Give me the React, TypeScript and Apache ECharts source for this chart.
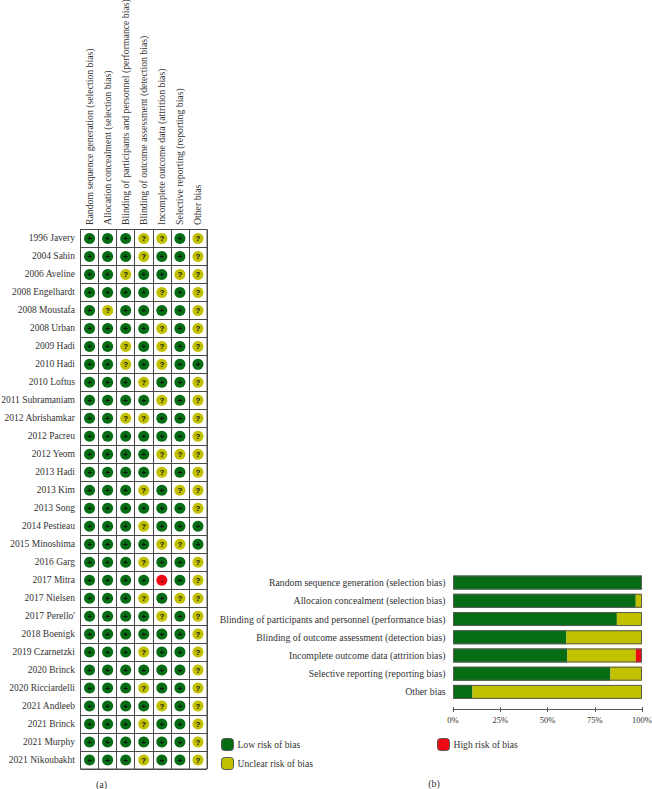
import React, { useEffect, useRef } from "react";
import * as echarts from "echarts";

const studies = ["1996 Javery","2004 Sahin","2006 Aveline","2008 Engelhardt","2008 Moustafa","2008 Urban","2009 Hadi","2010 Hadi","2010 Loftus","2011 Subramaniam","2012 Abrishamkar","2012 Pacreu","2012 Yeom","2013 Hadi","2013 Kim","2013 Song","2014 Pestieau","2015 Minoshima","2016 Garg","2017 Mitra","2017 Nielsen","2017 Perello'","2018 Boenigk","2019 Czarnetzki","2020 Brinck","2020 Ricciardelli","2021 Andleeb","2021 Brinck","2021 Murphy","2021 Nikoubakht"];
const domains = ["Random sequence generation (selection bias)","Allocation concealment (selection bias)","Blinding of participants and personnel (performance bias)","Blinding of outcome assessment (detection bias)","Incomplete outcome data (attrition bias)","Selective reporting (reporting bias)","Other bias"];
const judgements = ["GGGUUGU","GGGUGGU","GGUGGUU","GGGGUGU","GUGGGGU","GGGGUGU","GGUGUGU","GGUGUGG","GGGUGGU","GGGGUGU","GGUUGGU","GGGGGGU","GGGGUUU","GGGGUGU","GGGUGUU","GGGGGGU","GGGUGGG","GGGGUUG","GGGUGGU","GGGGRGU","GGGUGUU","GGGGUGU","GGGGGGU","GGGUGGU","GGGGGGU","GGGUGGU","GGGGUGU","GGGUGGU","GGGGGGU","GGGUGGU"];

const summaryLabels = ["Random sequence generation (selection bias)","Allocaion concealment (selection bias)","Blinding of participants and personnel (performance bias)","Blinding of outcome assessment (detection bias)","Incomplete outcome data (attrition bias)","Selective reporting (reporting bias)","Other bias"];
const lowRisk = [100, 96.7, 86.7, 60, 60.5, 83.3, 10.3];
const unclearRisk = [0, 3.3, 13.3, 40, 36.2, 16.7, 89.7];
const highRisk = [0, 0, 0, 0, 3.3, 0, 0];
const barTotals = [100, 100, 100, 100, 100, 100, 100];

const GREEN = "#066d14";
const YELLOW = "#c1c100";
const RED = "#ee0a12";
const SERIF = "'Liberation Serif', serif";
const TEXT = "#333333";
const LINE = "#4a4a4a";

function points(code: string) {
  const out: number[][] = [];
  judgements.forEach((row, r) => {
    row.split("").forEach((c, d) => {
      if (c === code) out.push([d, r]);
    });
  });
  return out;
}

function dotSeries(code: string, color: string, mark: string) {
  return {
    type: "scatter",
    xAxisIndex: 0,
    yAxisIndex: 0,
    symbol: "circle",
    symbolSize: 11,
    data: points(code),
    silent: true,
    itemStyle: { color, opacity: 1 },
    label: {
      show: true,
      position: "inside",
      formatter: () => mark,
      color: "#111111",
      fontFamily: "'Liberation Sans', sans-serif",
      fontWeight: "bold",
      fontSize: 8,
    },
  };
}

function barSeries(name: string, values: number[], color: string) {
  return {
    type: "bar",
    name,
    stack: "risk",
    xAxisIndex: 1,
    yAxisIndex: 1,
    barWidth: 14,
    barGap: "-100%",
    data: values,
    itemStyle: { color },
  };
}

function legendAt(name: string, left: number, top: number) {
  return {
    data: [name],
    left,
    top,
    padding: 0,
    itemWidth: 12,
    itemHeight: 12,
    itemGap: 0,
    selectedMode: false,
    textStyle: { fontFamily: SERIF, fontSize: 9.6, color: TEXT, padding: [0, 0, 0, -1] },
    itemStyle: { borderColor: "#555555", borderWidth: 1 },
  };
}

export default function App() {
  const ref = useRef<HTMLDivElement>(null);
  useEffect(() => {
    const chart = echarts.init(ref.current!, null, { renderer: "svg" });
    const valueAxisBase = {
      gridIndex: 1,
      type: "value",
      min: 0,
      max: 100,
      interval: 25,
      splitLine: { show: false },
    };
    chart.setOption({
      animation: false,
      backgroundColor: "#ffffff",
      legend: [
        legendAt("Low risk of bias", 221, 738),
        legendAt("Unclear risk of bias", 221, 757),
        legendAt("High risk of bias", 437, 738),
      ],
      grid: [
        { left: 80.5, top: 229.5, width: 126.5, height: 539.5, show: true, backgroundColor: "#fff", borderColor: LINE, borderWidth: 1, outerBoundsMode: "none" },
        { left: 453, top: 573.5, width: 189, height: 127.5, show: false, outerBoundsMode: "none" },
      ],
      xAxis: [
        {
          gridIndex: 0,
          type: "category",
          position: "top",
          data: domains,
          axisLine: { show: false },
          axisTick: { show: false },
          splitLine: { show: true, interval: 0, lineStyle: { color: LINE, width: 1 } },
          axisLabel: { interval: 0, rotate: -90, margin: 4.5, fontFamily: SERIF, fontSize: 9.75, color: TEXT },
        },
        {
          ...valueAxisBase,
          position: "bottom",
          offset: 8,
          axisLine: { show: true, lineStyle: { color: "#555", width: 1 } },
          axisTick: { show: true, length: 3, lineStyle: { color: "#555" } },
          axisLabel: { margin: 6, fontFamily: SERIF, fontSize: 8.5, color: TEXT, formatter: "{value}%", hideOverlap: false },
        },
        {
          ...valueAxisBase,
          position: "top",
          offset: -135.5,
          axisLine: { show: false },
          axisTick: { show: true, length: 2, lineStyle: { color: "#555" } },
          axisLabel: { show: false },
        },
      ],
      yAxis: [
        {
          gridIndex: 0,
          type: "category",
          inverse: true,
          data: studies,
          axisLine: { show: false },
          axisTick: { show: false },
          splitLine: { show: true, interval: 0, lineStyle: { color: LINE, width: 1 } },
          axisLabel: { interval: 0, margin: 5.5, fontFamily: SERIF, fontSize: 9.5, color: TEXT },
        },
        {
          gridIndex: 1,
          type: "category",
          inverse: true,
          data: summaryLabels,
          axisLine: { show: false },
          axisTick: { show: false },
          splitLine: { show: false },
          axisLabel: { interval: 0, margin: 7.5, fontFamily: SERIF, fontSize: 9.75, color: TEXT },
        },
      ],
      series: [
        dotSeries("G", GREEN, "+"),
        dotSeries("U", YELLOW, "?"),
        dotSeries("R", RED, "-"),
        barSeries("Low risk of bias", lowRisk, GREEN),
        barSeries("Unclear risk of bias", unclearRisk, YELLOW),
        barSeries("High risk of bias", highRisk, RED),
        {
          type: "bar",
          name: "frame",
          stack: "frame",
          xAxisIndex: 1,
          yAxisIndex: 1,
          barWidth: 14,
          barGap: "-100%",
          silent: true,
          data: barTotals,
          itemStyle: { color: "rgba(0,0,0,0)", borderColor: "#5a5a5a", borderWidth: 1 },
        },
      ],
      graphic: [
        { type: "text", x: 101.5, y: 784, style: { text: "(a)", fontFamily: SERIF, fontSize: 10, fill: TEXT, textAlign: "center", textVerticalAlign: "middle" } },
        { type: "text", x: 434, y: 783, style: { text: "(b)", fontFamily: SERIF, fontSize: 10, fill: TEXT, textAlign: "center", textVerticalAlign: "middle" } },
      ],
    });
    return () => chart.dispose();
  }, []);
  return <div ref={ref} style={{ position: "absolute", left: 0, top: 0, width: 652, height: 789 }} />;
}
